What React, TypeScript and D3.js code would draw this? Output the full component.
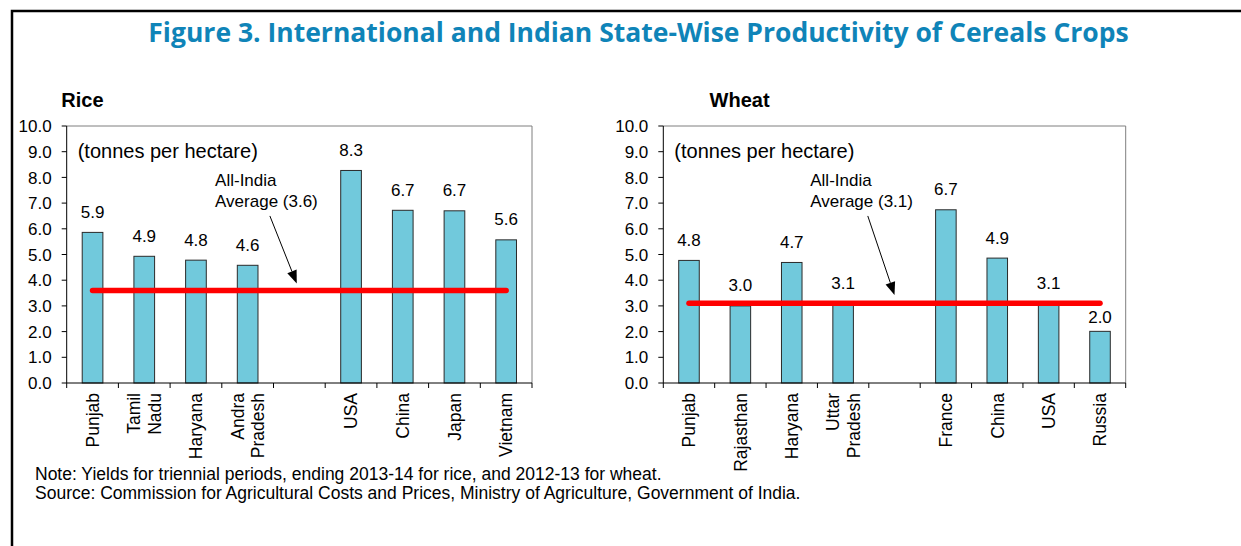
import React from "react";
import * as d3 from "d3";

// ---------- data ----------
const riceCategories = ["Punjab", "Tamil\nNadu", "Haryana", "Andra\nPradesh", "", "USA", "China", "Japan", "Vietnam"];
const riceValues: (number | null)[] = [5.86, 4.93, 4.78, 4.58, null, 8.27, 6.72, 6.7, 5.57];
const riceAverage = 3.6;

const wheatCategories = ["Punjab", "Rajasthan", "Haryana", "Uttar\nPradesh", "", "France", "China", "USA", "Russia"];
const wheatValues: (number | null)[] = [4.77, 3.0, 4.69, 3.1, null, 6.74, 4.86, 3.1, 2.01];
const wheatAverage = 3.1;

const yTicks = [0, 1, 2, 3, 4, 5, 6, 7, 8, 9, 10];

const titleText = "Figure 3. International and Indian State-Wise Productivity of Cereals Crops";
const unitText = "(tonnes per hectare)";
const noteText = "Note: Yields for triennial periods, ending 2013-14 for rice, and 2012-13 for wheat.";
const sourceText = "Source: Commission for Agricultural Costs and Prices, Ministry of Agriculture, Government of India.";

// ---------- style ----------
const FONT = "'Liberation Sans', Arial, Helvetica, sans-serif";
const BAR_FILL = "#71C9DC";
const BAR_STROKE = "#2a2a2a";
const RED = "#FF0000";
const TITLE_BLUE = "#0F84B8";

const TOP = 126;
const BOTTOM = 383;

type PanelProps = {
  name: string;
  nameX: number;
  cats: string[];
  vals: (number | null)[];
  avg: number;
  left: number;
  right: number;
  annoTextBand: number;
  arrowStart: [number, number];
  arrowEnd: [number, number];
};

function Panel({ name, nameX, cats, vals, avg, left, right, annoTextBand, arrowStart, arrowEnd }: PanelProps) {
  const keys = cats.map((c, i) => `${i}`);
  const x = d3.scaleBand<string>().domain(keys).range([left, right]).paddingInner(0.6).paddingOuter(0.3);
  const y = d3.scaleLinear().domain([0, 10]).range([BOTTOM, TOP]);
  const step = x.step();
  const bw = x.bandwidth();
  const center = (i: number) => (x(keys[i]) as number) + bw / 2;
  const bandPos = (b: number) => left + b * step;
  const boundaries = d3.range(cats.length + 1).map((i) => left + i * step);
  const fmt = d3.format(".1f");

  const linePath = d3.line<[number, number]>()([
    [center(0), y(avg)],
    [center(cats.length - 1), y(avg)],
  ]) as string;

  const ax1 = bandPos(arrowStart[0]);
  const ay1 = y(arrowStart[1]);
  const ax2 = bandPos(arrowEnd[0]);
  const ay2 = y(arrowEnd[1]);
  const ang = Math.atan2(ay2 - ay1, ax2 - ax1);
  const headLen = 13;
  const headW = 5;
  const bx = ax2 - headLen * Math.cos(ang);
  const by = ay2 - headLen * Math.sin(ang);
  const px = -Math.sin(ang) * headW;
  const py = Math.cos(ang) * headW;

  const labelY = (v: number) => (y(v) - y(avg) > 15 ? y(v) - 8 : y(v) - 14.5);

  return (
    <g>
      <text x={nameX} y={107} fontFamily={FONT} fontWeight="bold" fontSize={20} fill="#000">
        {name}
      </text>
      <line x1={left} x2={right} y1={TOP} y2={TOP} stroke="#7f7f7f" strokeWidth={1} />
      <line x1={right} x2={right} y1={TOP} y2={BOTTOM} stroke="#7f7f7f" strokeWidth={1} />
      {vals.map((v, i) =>
        v == null ? null : (
          <rect
            key={i}
            x={x(keys[i]) as number}
            y={y(v)}
            width={bw}
            height={y(0) - y(v)}
            fill={BAR_FILL}
            stroke={BAR_STROKE}
            strokeWidth={1}
          />
        )
      )}
      {vals.map((v, i) =>
        v == null ? null : (
          <text key={i} x={center(i)} y={labelY(v)} textAnchor="middle" fontFamily={FONT} fontSize={17} fill="#000">
            {fmt(v)}
          </text>
        )
      )}
      <path d={linePath} stroke={RED} strokeWidth={5.5} strokeLinecap="round" fill="none" />
      <line x1={left} x2={left} y1={TOP} y2={BOTTOM} stroke="#000" strokeWidth={1} />
      <line x1={left} x2={right} y1={BOTTOM} y2={BOTTOM} stroke="#000" strokeWidth={1} />
      {yTicks.map((t) => (
        <g key={t}>
          <line x1={left - 5} x2={left} y1={y(t)} y2={y(t)} stroke="#000" strokeWidth={1} />
          <text x={left - 15} y={y(t)} dy="0.36em" textAnchor="end" fontFamily={FONT} fontSize={17} fill="#000">
            {t.toFixed(1)}
          </text>
        </g>
      ))}
      {boundaries.map((b, i) => (
        <line key={i} x1={b} x2={b} y1={BOTTOM} y2={BOTTOM + 5} stroke="#000" strokeWidth={1} />
      ))}
      {cats.map((c, i) => {
        const lines = c.split("\n");
        const n = lines.length;
        return lines.map((ln, j) => {
          const cx = center(i) + (j - (n - 1) / 2) * 20.5;
          const cy = BOTTOM + 10;
          return (
            <text
              key={`${i}-${j}`}
              x={0}
              y={0}
              dy="0.36em"
              transform={`translate(${cx},${cy}) rotate(-90)`}
              textAnchor="end"
              fontFamily={FONT}
              fontSize={17.5}
              fill="#000"
            >
              {ln}
            </text>
          );
        });
      })}
      <text x={left + 11} y={158} fontFamily={FONT} fontSize={20} fill="#000">
        {unitText}
      </text>
      <text x={bandPos(annoTextBand)} y={186} fontFamily={FONT} fontSize={17} fill="#000">
        All-India
      </text>
      <text x={bandPos(annoTextBand)} y={207} fontFamily={FONT} fontSize={17} fill="#000">
        {`Average (${avg.toFixed(1)})`}
      </text>
      <line x1={ax1} y1={ay1} x2={bx} y2={by} stroke="#000" strokeWidth={1} />
      <polygon points={`${ax2},${ay2} ${bx + px},${by + py} ${bx - px},${by - py}`} fill="#000" />
    </g>
  );
}

export default function App() {
  return (
    <svg width={1241} height={546} style={{ position: "absolute", left: 0, top: 0, background: "#fff" }}>
      <rect x={0} y={0} width={1241} height={546} fill="#fff" />
      <rect x={12} y={11} width={1300} height={600} fill="none" stroke="#000" strokeWidth={2.5} />
      <text
        x={638.5}
        y={42}
        textAnchor="middle"
        fontFamily="'Open Sans', 'Noto Sans', sans-serif"
        fontWeight="bold"
        fontSize={26.5}
        fill={TITLE_BLUE}
      >
        {titleText}
      </text>
      <Panel
        name="Rice"
        nameX={61.3}
        cats={riceCategories}
        vals={riceValues}
        avg={riceAverage}
        left={66.7}
        right={532}
        annoTextBand={2.87}
        arrowStart={[3.93, 6.5]}
        arrowEnd={[4.45, 3.87]}
      />
      <Panel
        name="Wheat"
        nameX={709.6}
        cats={wheatCategories}
        vals={wheatValues}
        avg={wheatAverage}
        left={663.3}
        right={1125.7}
        annoTextBand={2.86}
        arrowStart={[3.98, 6.5]}
        arrowEnd={[4.5, 3.42]}
      />
      <text x={35} y={480} fontFamily={FONT} fontSize={17.5} fill="#000">
        {noteText}
      </text>
      <text x={35} y={499} fontFamily={FONT} fontSize={17.5} fill="#000">
        {sourceText}
      </text>
    </svg>
  );
}
